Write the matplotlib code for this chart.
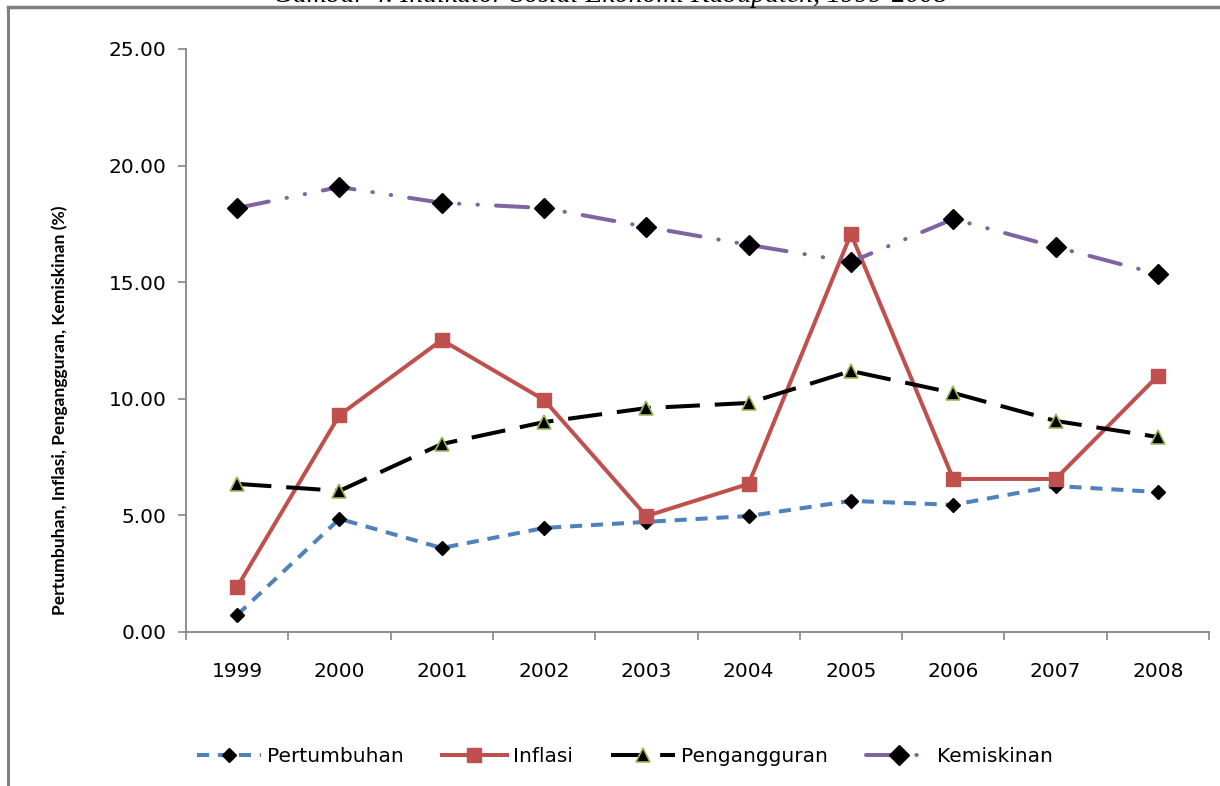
import numpy as np
import matplotlib
matplotlib.use('Agg')
import matplotlib.pyplot as plt
from matplotlib.lines import Line2D

years = ['1999', '2000', '2001', '2002', '2003', '2004', '2005', '2006', '2007', '2008']
pertumbuhan = [0.73, 4.85, 3.60, 4.46, 4.72, 4.97, 5.62, 5.45, 6.26, 6.00]
inflasi = [1.93, 9.30, 12.52, 9.95, 4.97, 6.35, 17.07, 6.56, 6.56, 10.98]
pengangguran = [6.35, 6.05, 8.06, 9.00, 9.60, 9.82, 11.19, 10.25, 9.05, 8.36]
kemiskinan = [18.18, 19.08, 18.40, 18.18, 17.37, 16.60, 15.87, 17.71, 16.51, 15.35]

fig = plt.figure(figsize=(12.2, 7.86), dpi=100)
ax = fig.add_axes([0.1525, 0.196, 0.8385, 0.7417])
x = np.arange(len(years))

lw = 2.9
ax.plot(x, pertumbuhan, color='#4F81BD', lw=lw, ls=(0, (3.0, 2.2)),
        marker='D', ms=7.5, mfc='black', mec='black', label='Pertumbuhan')
ax.plot(x, inflasi, color='#C0504D', lw=lw, ls='-',
        marker='s', ms=10, mfc='#C0504D', mec='#C0504D', label='Inflasi')
ax.plot(x, pengangguran, color='black', lw=lw, ls=(0, (8.5, 3.7)),
        marker='^', ms=9.5, mfc='black', mec='#9BBB59', mew=1.2, label='Pengangguran')
ax.plot(x, kemiskinan, color='#8064A2', lw=lw, ls=(0, (8, 4.5, 0.1, 4.5, 0.1, 4.5)),
        dash_capstyle='round', marker='D', ms=10.5, mfc='black', mec='black',
        label='Kemiskinan')

ax.set_xlim(-0.5, len(years) - 0.5)
ax.set_ylim(0, 25)
ax.set_yticks(np.arange(0, 25.1, 5))
ax.set_yticklabels(['%.2f' % v for v in np.arange(0, 25.1, 5)])
ax.set_xticks(x)
ax.set_xticklabels(years)
ax.set_xticks(np.arange(-0.5, len(years), 1), minor=True)
ax.tick_params(axis='x', which='major', length=0, pad=22, labelsize=14.5, colors='black')
ax.tick_params(axis='x', which='minor', length=6, width=1.2, color='#868686')
ax.tick_params(axis='y', length=6, width=1.2, color='#868686', pad=8, labelsize=14.5)

for s in ['top', 'right']:
    ax.spines[s].set_visible(False)
for s in ['left', 'bottom']:
    ax.spines[s].set_color('#868686')
    ax.spines[s].set_linewidth(1.3)

fig.text(0.049, 0.478, 'Pertumbuhan, Inflasi, Pengangguran, Kemiskinan (%)',
         rotation=90, ha='center', va='center', fontsize=12.6, fontweight='bold',
         family=['Lato', 'DejaVu Sans'])

leg = fig.legend(loc='center', bbox_to_anchor=(0.512, 0.037), ncol=4, frameon=False,
                 fontsize=14.5, handlelength=3.2, handletextpad=0.3, columnspacing=1.9)

# clipped caption at the top of the scan
fig.text(0.5, 1 - 2 / 786, 'Gambar 4. Indikator Sosial Ekonomi Kabupaten, 1999-2008',
         ha='center', va='baseline', fontsize=20, style='italic',
         family=['Liberation Serif', 'DejaVu Serif'])

# page frame
fig.add_artist(Line2D([8 / 1220, 1], [1 - 7 / 786, 1 - 7 / 786], color='#7f7f7f', lw=2.5,
                      transform=fig.transFigure))
fig.add_artist(Line2D([8 / 1220, 8 / 1220], [0, 1 - 7 / 786], color='#7f7f7f', lw=2.2,
                      transform=fig.transFigure))

fig.savefig('out.png', dpi=100)
